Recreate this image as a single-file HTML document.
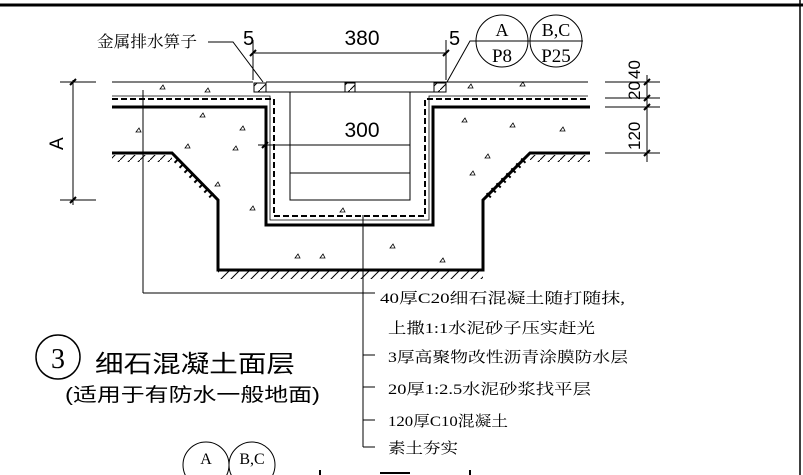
<!DOCTYPE html>
<html><head><meta charset="utf-8"><style>
html,body{margin:0;background:#fff;overflow:hidden;width:803px;height:475px}
svg{display:block}
text{font-family:"Liberation Serif","Noto Serif CJK SC","Noto Sans CJK SC",serif;fill:#000}
.s{font-family:"Liberation Sans","Noto Sans CJK SC",sans-serif}
</style></head><body>
<svg width="803" height="475" viewBox="0 0 803 475" xmlns="http://www.w3.org/2000/svg">
<defs>
<pattern id="h" width="10" height="10" patternUnits="userSpaceOnUse"><path d="M0 10 L10 0" stroke="#000" stroke-width="1"/></pattern>
</defs>
<line x1="0" y1="5" x2="803" y2="5" stroke="#000" stroke-width="3"/>
<line x1="800" y1="0" x2="800" y2="475" stroke="#000" stroke-width="1.5"/>

<line x1="112" y1="82" x2="253" y2="82" stroke="#000"/>
<line x1="266" y1="82" x2="588" y2="82" stroke="#000"/>
<line x1="266" y1="92" x2="435" y2="92" stroke="#000"/>
<rect x="254" y="83" width="12" height="9" fill="url(#h)" stroke="#000"/>
<rect x="345" y="83" width="10" height="9" fill="url(#h)" stroke="#000"/>
<rect x="434" y="83" width="12" height="9" fill="url(#h)" stroke="#000"/>
<path d="M112 99 H274 V216 H425 V99 H588" fill="none" stroke="#000" stroke-width="2" stroke-dasharray="6 3"/>
<path d="M112 96 H270 V220 H429 V96 H588" fill="none" stroke="#000" stroke-width="0.8"/>
<path d="M112 107 H266 V225 H433 V107 H590" fill="none" stroke="#000" stroke-width="3"/>
<path d="M290 92 V200 H410 V92" fill="none" stroke="#000"/>
<line x1="290" y1="173" x2="410" y2="173" stroke="#000"/>
<path d="M112 153 H172 L218 200 V270 H483 V200 L530 153 H590" fill="none" stroke="#000" stroke-width="3"/>
<rect x="218" y="271" width="265" height="8" fill="url(#h)"/>
<rect x="112" y="155" width="60" height="7" fill="url(#h)"/>
<rect x="530" y="155" width="60" height="7" fill="url(#h)"/>
<path d="M176 160 L212 196 M488 196 L524 160" stroke="#000" stroke-width="6" stroke-dasharray="2 5" fill="none"/>
<g fill="none" stroke="#000" stroke-width="0.8">
<path d="M160 89 l3 -4 l2 4z M205 92 l3 -4 l2 4z M200 117 l3 -4 l2 4z M136 132 l3 -4 l2 4z M185 148 l3 -4 l2 4z M233 150 l3 -4 l2 4z M215 186 l3 -4 l2 4z M250 210 l3 -4 l2 4z M295 258 l3 -4 l2 4z M320 258 l3 -4 l2 4z M390 248 l3 -4 l2 4z M440 262 l3 -4 l2 4z M340 212 l3 -4 l2 4z M462 122 l3 -4 l2 4z M510 127 l3 -4 l2 4z M485 158 l3 -4 l2 4z M520 86 l3 -4 l2 4z M468 88 l3 -4 l2 4z M560 131 l3 -4 l2 4z M470 175 l3 -4 l2 4z M240 130 l3 -4 l2 4z"/>
</g>
<line x1="143" y1="90" x2="143" y2="293" stroke="#000"/>
<line x1="143" y1="293" x2="375" y2="293" stroke="#000"/>
<line x1="363" y1="215" x2="363" y2="447" stroke="#000"/>
<path d="M363 355 H375 M363 387 H375 M363 420 H375 M363 447 H375" stroke="#000"/>
<g font-size="15">
<text x="380" y="303" textLength="245" lengthAdjust="spacingAndGlyphs">40厚C20细石混凝土随打随抹,</text>
<text x="388" y="333" textLength="207" lengthAdjust="spacingAndGlyphs">上撒1:1水泥砂子压实赶光</text>
<text x="388" y="362" textLength="240" lengthAdjust="spacingAndGlyphs">3厚高聚物改性沥青涂膜防水层</text>
<text x="388" y="394" textLength="203" lengthAdjust="spacingAndGlyphs">20厚1:2.5水泥砂浆找平层</text>
<text x="388" y="426" textLength="120" lengthAdjust="spacingAndGlyphs">120厚C10混凝土</text>
<text x="388" y="453" textLength="70" lengthAdjust="spacingAndGlyphs">素土夯实</text>
</g>
<circle cx="58" cy="357" r="22" fill="none" stroke="#000" stroke-width="1.5"/>
<text x="58" y="368" font-size="28" text-anchor="middle">3</text>
<text class="s" x="95" y="372" font-size="24" textLength="200" lengthAdjust="spacingAndGlyphs">细石混凝土面层</text>
<text class="s" x="65" y="401" font-size="19" textLength="255" lengthAdjust="spacingAndGlyphs">(适用于有防水一般地面)</text>
<text x="97" y="47" font-size="16" textLength="100" lengthAdjust="spacingAndGlyphs">金属排水箅子</text>
<path d="M208 42 H233 L263 82" fill="none" stroke="#000"/>
<line x1="253" y1="40" x2="253" y2="80" stroke="#000"/>
<line x1="446" y1="40" x2="446" y2="80" stroke="#000"/>
<line x1="253" y1="53" x2="446" y2="53" stroke="#000"/>
<path d="M250 56 l6 -6 M443 56 l6 -6" stroke="#000" stroke-width="2"/>
<text x="362" y="45" font-size="21" text-anchor="middle" class="s">380</text>
<text x="243" y="45" font-size="20" class="s">5</text>
<text x="449" y="45" font-size="20" class="s">5</text>
<text x="362" y="137" font-size="21" text-anchor="middle" class="s">300</text>
<line x1="258" y1="145" x2="410" y2="145" stroke="#000"/>
<path d="M262 148 l6 -6" stroke="#000" stroke-width="2"/>
<path d="M447 82 L470 41 H583" fill="none" stroke="#000"/>
<circle cx="502" cy="41" r="26" fill="none" stroke="#000"/>
<circle cx="556" cy="41" r="26" fill="none" stroke="#000"/>
<text x="502" y="36" font-size="18" text-anchor="middle">A</text>
<text x="502" y="62" font-size="19" text-anchor="middle">P8</text>
<text x="556" y="36" font-size="18" text-anchor="middle">B,C</text>
<text x="556" y="62" font-size="19" text-anchor="middle">P25</text>
<line x1="647" y1="75" x2="647" y2="162" stroke="#000"/>
<path d="M605 82 H660 M605 98 H660 M605 107 H660 M605 153 H660" stroke="#000"/>
<path d="M644 85 l6 -6 M644 101 l6 -6 M644 110 l6 -6 M644 156 l6 -6" stroke="#000" stroke-width="2"/>
<g font-size="17" class="s">
<text transform="translate(640,79) rotate(-90)" class="s">40</text>
<text transform="translate(640,100) rotate(-90)" class="s">20</text>
<text transform="translate(640,150) rotate(-90)" class="s">120</text>
</g>
<line x1="73" y1="80" x2="73" y2="205" stroke="#000"/>
<path d="M60 82 H96 M60 200 H96" stroke="#000"/>
<path d="M70 85 l6 -6 M70 203 l6 -6" stroke="#000" stroke-width="2"/>
<text transform="translate(63,150) rotate(-90)" font-size="19" class="s">A</text>
<circle cx="206" cy="465" r="23" fill="none" stroke="#000"/>
<circle cx="252" cy="465" r="23" fill="none" stroke="#000"/>
<text x="206" y="464" font-size="16" text-anchor="middle">A</text>
<text x="252" y="464" font-size="16" text-anchor="middle">B,C</text>
<path d="M320 470 v5 M470 470 v5 M380 473 h30" stroke="#000" stroke-width="2"/>
</svg>
</body></html>
